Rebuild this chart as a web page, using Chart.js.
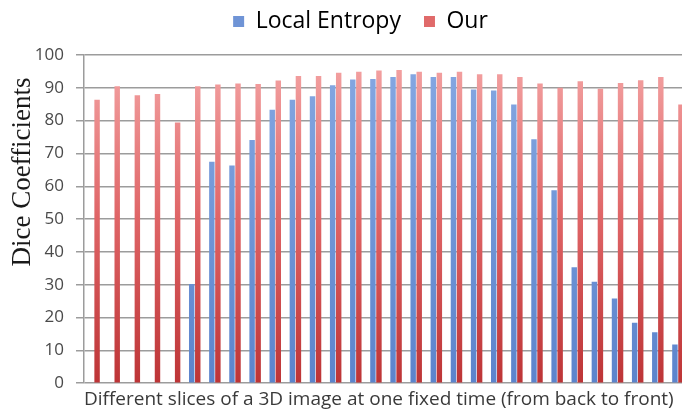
<!DOCTYPE html>
<html>
<head>
<meta charset="utf-8">
<script src="https://cdn.jsdelivr.net/npm/chart.js@4.4.1/dist/chart.umd.min.js"></script>
<style>
  html, body { margin: 0; padding: 0; background: #ffffff; overflow: hidden; width: 682px; height: 417px; }
  #wrap { position: relative; width: 716px; height: 417px; }
</style>
</head>
<body>
<div id="wrap"><canvas id="chart" width="716" height="417"></canvas></div>
<script>
// Slice index along the volume, back to front
const slices = ['1','2','3','4','5','6','7','8','9','10','11','12','13','14','15',
                '16','17','18','19','20','21','22','23','24','25','26','27','28','29','30'];

// Dice coefficient per slice for each method
const localEntropy = [0, 0, 0, 0, 0, 30.2, 67.5, 66.3, 74.1, 83.3, 86.4, 87.4, 90.8, 92.5, 92.7,
                      93.3, 94.1, 93.3, 93.3, 89.5, 89.2, 84.9, 74.3, 58.8, 35.3, 30.9, 25.8, 18.4, 15.5, 11.8];
const ours = [86.4, 90.5, 87.7, 88.1, 79.4, 90.5, 91.0, 91.3, 91.2, 92.2, 93.6, 93.6, 94.6, 94.9, 95.3,
              95.4, 94.9, 94.6, 94.9, 94.1, 94.1, 93.3, 91.3, 90.0, 92.0, 89.7, 91.5, 92.3, 93.3, 84.9];

// Y axis range
const yMin = 0, yMax = 100, yStep = 10;

const yTitle = 'Dice Coefficients';
const xTitle = 'Different slices of a 3D image at one fixed time (from back to front)';

// Vertical gradient across the plot area
function vGradient(ctx, stops, fallback) {
  const chart = ctx.chart;
  const area = chart.chartArea;
  if (!area) return fallback;
  const g = chart.ctx.createLinearGradient(0, area.bottom, 0, area.top);
  stops.forEach(([p, c]) => g.addColorStop(p, c));
  return g;
}

// Adjust the space the legend takes above the plot
const legendGap = {
  id: 'legendGap',
  beforeInit(chart) {
    const fit = chart.legend.fit;
    chart.legend.fit = function () {
      fit.call(this);
      this.height += 12;
    };
  }
};

// Rotated serif title on the left side
const sideTitle = {
  id: 'sideTitle',
  afterDraw(chart) {
    const c = chart.ctx;
    c.save();
    c.translate(23, 172);
    c.rotate(-Math.PI / 2);
    c.font = "27px 'Liberation Serif', 'Times New Roman', serif";
    c.fillStyle = '#1a1a1a';
    c.textAlign = 'center';
    c.textBaseline = 'middle';
    c.fillText(yTitle, 0, 0);
    c.restore();
  }
};

new Chart(document.getElementById('chart'), {
  type: 'bar',
  data: {
    labels: slices,
    datasets: [
      {
        label: 'Local Entropy',
        data: localEntropy,
        backgroundColor: (ctx) => vGradient(ctx, [[0, '#5c84cc'], [1, '#86a8e2']], '#6f94d6'),
        borderWidth: 0
      },
      {
        label: 'Our',
        data: ours,
        backgroundColor: (ctx) => vGradient(ctx, [[0, '#bd3436'], [0.5, '#df6466'], [1, '#f4a5a5']], '#e06a6a'),
        borderWidth: 0
      }
    ]
  },
  options: {
    responsive: false,
    devicePixelRatio: 1,
    animation: false,
    layout: { padding: { top: -13, right: 28, bottom: 4, left: 33 } },
    plugins: {
      legend: {
        display: true,
        position: 'top',
        labels: {
          font: { family: "'Open Sans', sans-serif", size: 23 },
          color: '#3a3a3a',
          boxWidth: 11,
          boxHeight: 11,
          padding: 23,
          generateLabels(chart) {
            const solid = ['#6f94d6', '#e06a6a'];
            return chart.data.datasets.map((ds, i) => ({
              text: ds.label, fillStyle: solid[i], strokeStyle: solid[i], lineWidth: 0,
              hidden: false, datasetIndex: i
            }));
          }
        }
      },
      tooltip: { enabled: false }
    },
    datasets: {
      bar: { barPercentage: 0.9, categoryPercentage: 0.6 }
    },
    scales: {
      x: {
        grid: { display: false, drawTicks: false },
        border: { display: false },
        ticks: { display: false },
        title: {
          display: true,
          text: xTitle,
          align: 'start',
          font: { family: "'Open Sans', sans-serif", size: 19 },
          color: '#3a3a3a',
          padding: { top: 5, bottom: 2 }
        }
      },
      y: {
        min: yMin,
        max: yMax,
        grid: { color: '#9c9c9c', lineWidth: 1.5, tickLength: 8 },
        border: { display: true, color: '#9c9c9c', width: 1.5 },
        ticks: {
          stepSize: yStep,
          padding: 12,
          font: { family: "'Open Sans', sans-serif", size: 17 },
          color: '#4a4a4a'
        },
        afterFit(scale) { scale.width = 51; }
      }
    }
  },
  plugins: [legendGap, sideTitle]
});
</script>
</body>
</html>
